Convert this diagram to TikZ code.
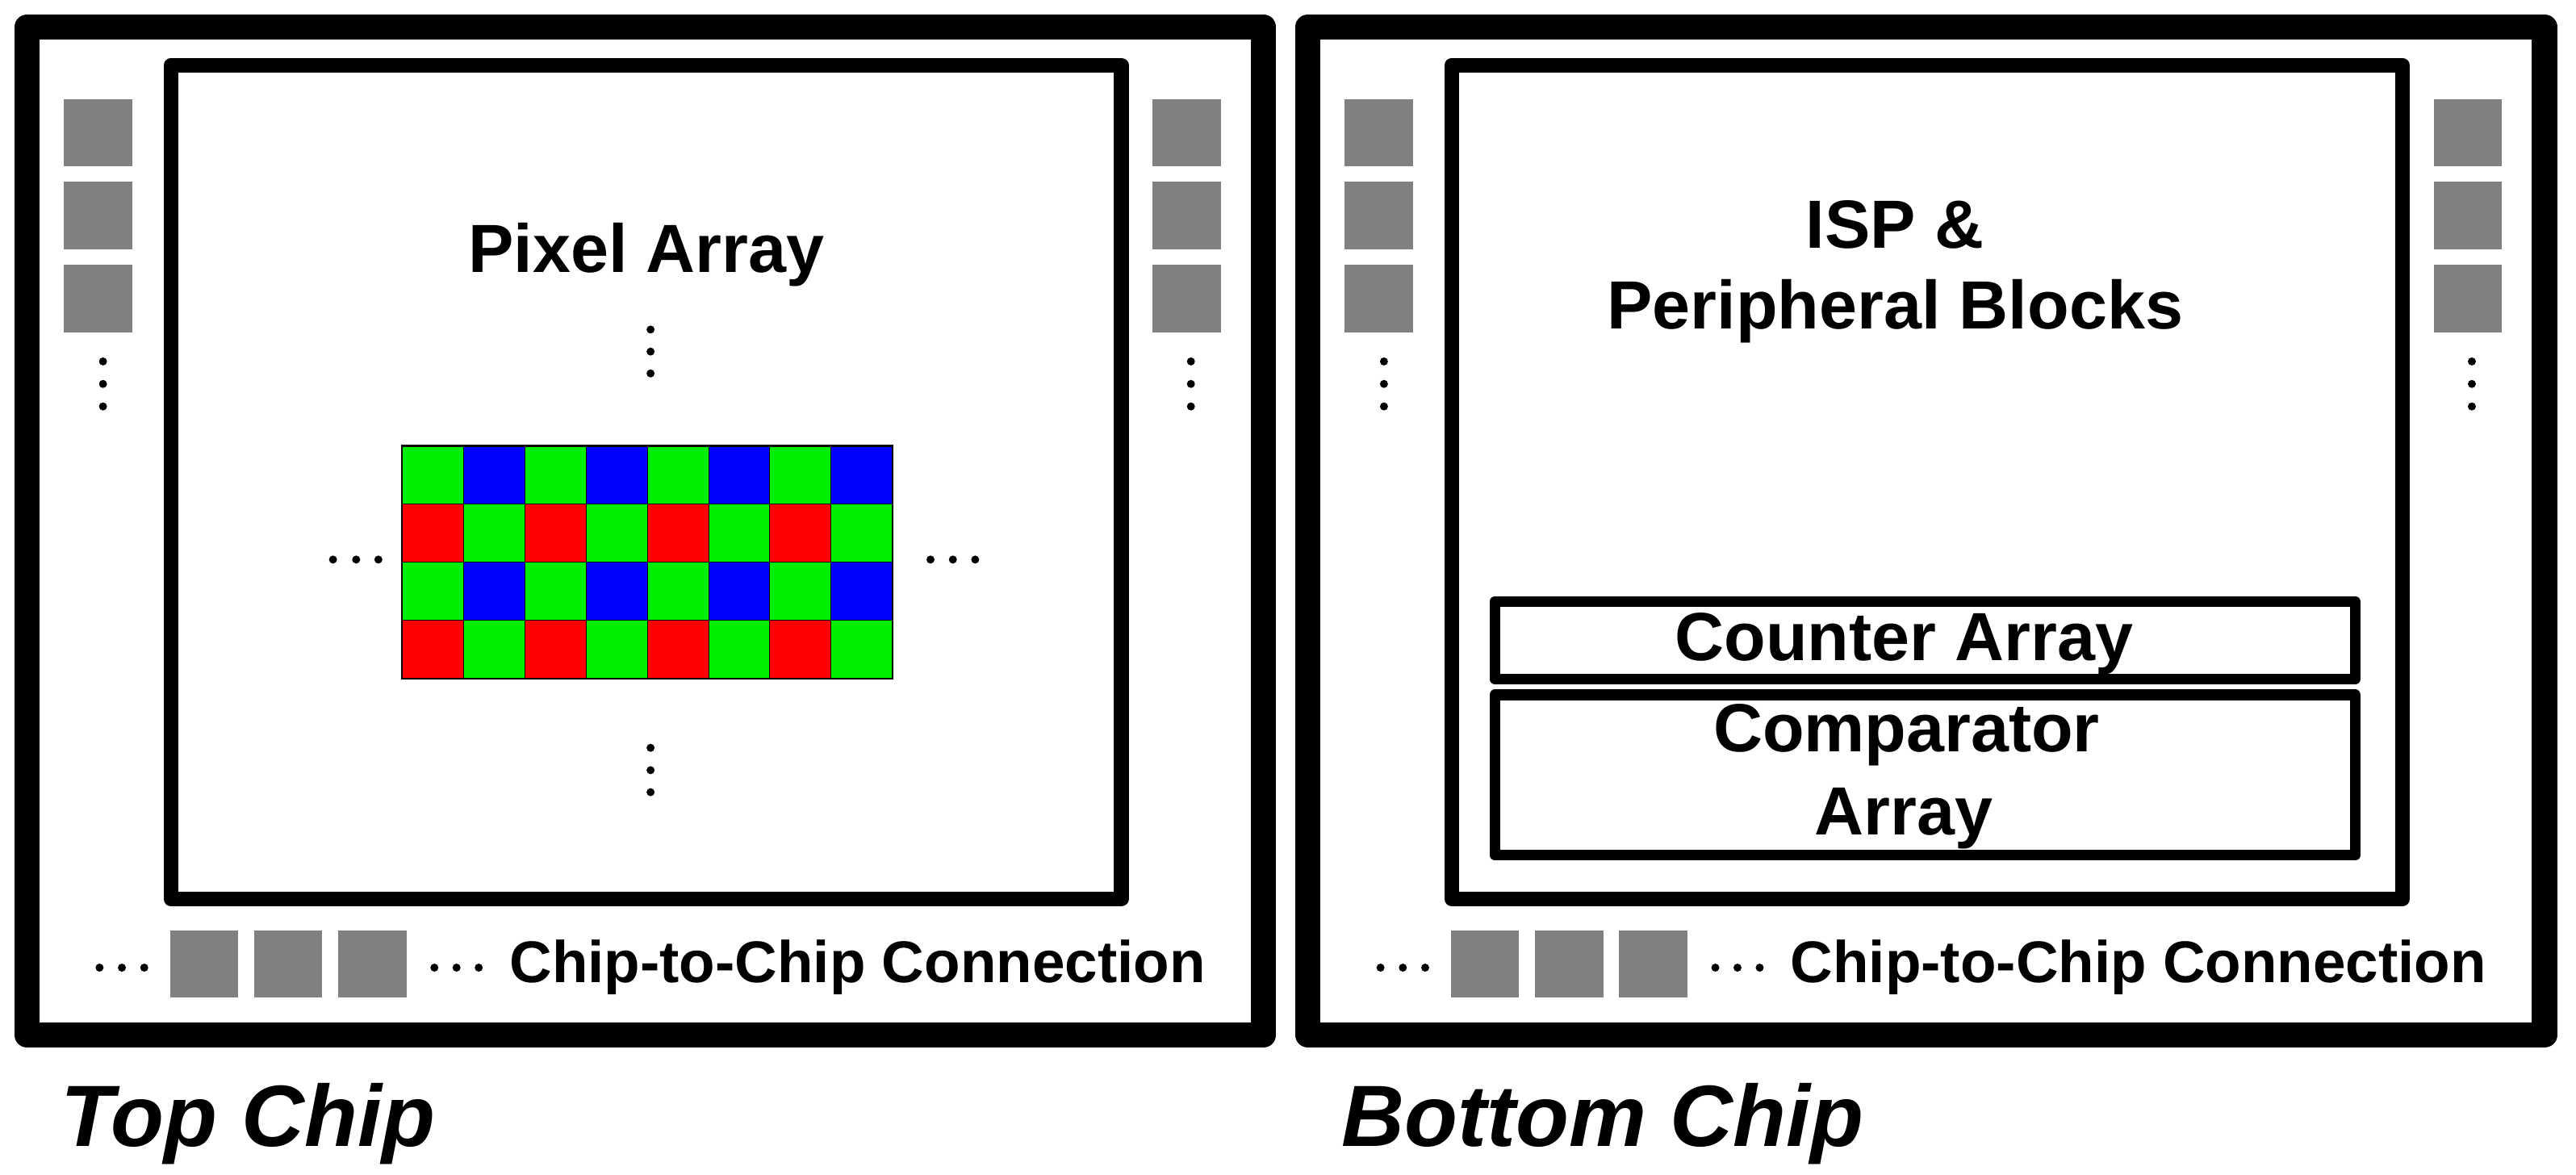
\documentclass[tikz,border=0pt]{standalone}
\usepackage{fontspec}
\setmainfont{Liberation Sans}
\usepackage{tikz}
\usetikzlibrary{positioning}

\definecolor{padgray}{RGB}{128,128,128}
\definecolor{bgreen}{RGB}{0,238,0}
\definecolor{bblue}{RGB}{0,0,255}
\definecolor{bred}{RGB}{255,0,0}

\begin{document}
\begin{tikzpicture}[x=1pt,y=-1pt,
	chip/.style={draw,line width=15.3pt,line join=round,minimum width=752.7pt,minimum height=613.5pt,inner sep=0pt},
	core/.style={draw,line width=8.9pt,line join=round,minimum width=578.6pt,minimum height=507.5pt,inner sep=0pt},
	block/.style={draw,line width=6.6pt,line join=round,minimum width=523.5pt,inner sep=0pt},
	pad/.style={fill=padgray,minimum width=41.7pt,minimum height=41pt,inner sep=0pt,outer sep=0pt},
	bpad/.style={pad,minimum width=41.5pt,minimum height=40.5pt},
	lbl/.style={font=\fontsize{41.5}{49}\selectfont\bfseries,inner sep=0pt,anchor=base},
	conn/.style={font=\fontsize{35.8}{40}\selectfont\bfseries,inner sep=0pt,anchor=base west},
	title/.style={font=\fontsize{53}{60}\selectfont\bfseries\itshape,inner sep=0pt,anchor=base west}]
\useasboundingbox[fill=white] (0,0) rectangle (1568,715.2);

\foreach \dx/\c in {0/top,779.7/bot}{
	\begin{scope}[shift={(\dx,0)}]
	\node[chip] (\c-frame) at (392.8,323.2) {};
	\node[core] (\c-core) at (393.25,293.4) {};
	\node[pad] (\c-l1) at (59.65,80.7) {};
	\node[pad,below=9.5pt of \c-l1] (\c-l2) {};
	\node[pad,below=9.5pt of \c-l2] (\c-l3) {};
	\node[pad] (\c-r1) at (722.45,80.7) {};
	\node[pad,below=9.5pt of \c-r1] (\c-r2) {};
	\node[pad,below=9.5pt of \c-r2] (\c-r3) {};
	\node[bpad] (\c-b1) at (124.25,586.75) {};
	\node[bpad,right=9.7pt of \c-b1] (\c-b2) {};
	\node[bpad,right=9.7pt of \c-b2] (\c-b3) {};
	\node[conn] (\c-conn) at (310,598) {Chip-to-Chip Connection};
	\foreach \y in {220,233.7,247.4} \fill (62.7,\y) circle (2.45pt) (724.9,\y) circle (2.45pt);
	\foreach \x in {60.6,74.2,87.8,264.4,277.9,291.4} \fill (\x,589) circle (2.45pt);
	\end{scope}
}

\foreach \r in {0,...,3}
	\foreach \c in {0,...,7}{
		\pgfmathtruncatemacro\k{mod(\r,2)*2+mod(\c,2)}
		\ifcase\k \def\col{bgreen}\or \def\col{bblue}\or \def\col{bred}\or \def\col{bgreen}\fi
		\filldraw[fill=\col,line width=0.5pt] (244.8+37.3*\c,271.4+35.4*\r) rectangle ++(37.3,35.4);
	}
\draw[line width=1pt] (244.8,271.4) rectangle (543.2,413);
\foreach \y in {200.6,214,227.3,455.2,468.8,482.2} \fill (396,\y) circle (2.45pt);
\foreach \x in {202.7,216.8,230.3,566.4,580,593.6} \fill (\x,340.6) circle (2.45pt);

\node[block,minimum height=47.2pt] (counter) at (1171.75,389.7) {};
\node[block,minimum height=97.5pt] (comparator) at (1171.75,471.75) {};

\node[lbl] (pixlbl) at (393.5,165.8) {Pixel Array};
\node[lbl] (isplbl) at (1153.5,150.9) {ISP \&};
\node[lbl] (perlbl) at (1153.5,200.2) {Peripheral Blocks};
\node[lbl] (cntlbl) at (1159,401.9) {Counter Array};
\node[lbl] (cmplbl) at (1160.5,457.5) {Comparator};
\node[lbl] (arrlbl) at (1158.7,508.4) {Array};
\node[title] (toplbl) at (37,698) {Top Chip};
\node[title] (botlbl) at (816.5,698) {Bottom Chip};
\end{tikzpicture}
\end{document}
